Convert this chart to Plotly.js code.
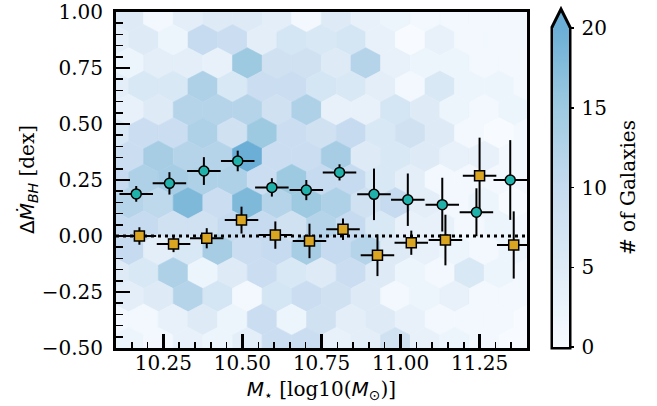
<!DOCTYPE html>
<html>
<head>
<meta charset="utf-8">
<script src="https://cdn.plot.ly/plotly-3.0.1.min.js"></script>
<style>html,body{margin:0;padding:0;background:#fff;}</style>
</head>
<body>
<div id="chart" style="width:657px;height:406px;"></div>
<script>
// ---------------- data ----------------
// hexbin counts, rows top -> bottom (row 0 is the offset lattice)
const hexCounts = [
  [5,1,4,5,5,4,1, 5,3,2,1,1,1,1],
  [4,5,2,10,9,4,7,6, 7,3,0,3,1,1,1],
  [2,4,4,3,15,8,8, 5,12,3,2,2,1,1],
  [4,6,6,13,6,9,9,7, 6,4,1,6,2,2,1],
  [3,5,12,12,12,8,13, 3,3,7,5,2,1,2],
  [6,9,9,13,8,15,9,8, 10,6,8,5,1,0,1],
  [9,14,12,12,20,9,9, 14,5,6,5,3,3,1],
  [10,13,14,13,13,9,15,10, 10,6,4,1,1,1,1],
  [12,11,18,9,18,12,15, 13,8,10,4,1,2,0],
  [10,10,8,8,10,10,8,12, 10,6,3,3,1,2,1],
  [10,4,6,14,9,10,14, 10,12,5,3,2,1,2],
  [5,6,13,2,5,9,6,5, 9,5,2,1,6,2,1],
  [4,5,12,7,1,7,9, 8,5,1,2,3,1,1],
  [1,1,3,5,2,9,2,8, 4,5,3,1,1,1,0],
  [2,1,3,2,4,9,9, 3,4,8,3,2,1,0]
];

const tealX    = [10.164, 10.269, 10.378, 10.485, 10.593, 10.702, 10.807, 10.916, 11.023, 11.132, 11.240, 11.347];
const tealY    = [0.188, 0.235, 0.290, 0.335, 0.217, 0.205, 0.284, 0.186, 0.162, 0.140, 0.106, 0.250];
const tealXErr = [0.053, 0.053, 0.053, 0.053, 0.053, 0.053, 0.053, 0.053, 0.053, 0.053, 0.053, 0.053];
const tealYErr = [0.035, 0.050, 0.062, 0.046, 0.041, 0.045, 0.036, 0.115, 0.117, 0.120, 0.107, 0.178];

const orangeX    = [10.174, 10.282, 10.387, 10.497, 10.604, 10.712, 10.818, 10.927, 11.034, 11.142, 11.250, 11.358];
const orangeY    = [0.000, -0.036, -0.010, 0.071, 0.004, -0.022, 0.030, -0.086, -0.030, -0.018, 0.269, -0.040];
const orangeXErr = [0.053, 0.053, 0.053, 0.053, 0.053, 0.053, 0.053, 0.053, 0.053, 0.053, 0.053, 0.053];
const orangeYErr = [0.039, 0.036, 0.045, 0.060, 0.061, 0.077, 0.048, 0.093, 0.054, 0.113, 0.170, 0.150];

const xTickVals = [10.25, 10.50, 10.75, 11.00, 11.25];
const yTickVals = [-0.50, -0.25, 0.00, 0.25, 0.50, 0.75, 1.00];
const cbTickVals = [0, 5, 10, 15, 20];
const cbTickText = ['\u20090', '\u20095', '\u200910', '\u200915', '\u200920'];
const cbTitle = '# of Galaxies';

// ---------------- geometry / style ----------------
const xRange = [10.1, 11.4];
const yRange = [-0.5, 1.0];
const hexX0 = 10.0936, hexDX = 0.0937, hexYTop = 0.979, hexDY = 0.10402;
const cmin = 0, cmax = 20;
const blues = [[0,'#f7fbff'],[0.25,'#deebf7'],[0.5,'#c6dbef'],[0.75,'#9ecae1'],[1,'#6baed6']];

function hex2rgb(h){return [parseInt(h.slice(1,3),16),parseInt(h.slice(3,5),16),parseInt(h.slice(5,7),16)];}
function cmap(v){
  let t = Math.max(0, Math.min(1, (v-cmin)/(cmax-cmin)));
  for (let i=1;i<blues.length;i++){
    if (t <= blues[i][0]){
      const a = blues[i-1], b = blues[i];
      const f = (t-a[0])/(b[0]-a[0]);
      const ca = hex2rgb(a[1]), cb = hex2rgb(b[1]);
      const c = ca.map((q,j)=>Math.round(q+(cb[j]-q)*f));
      return 'rgb('+c.join(',')+')';
    }
  }
  return blues[blues.length-1][1];
}

const traces = [];
const hw = hexDX/2, hh = hexDY*2/3, hs = hexDY/3;
const cX = [], cY = [], cV = [];
hexCounts.forEach((row, r) => {
  const yc = hexYTop - r*hexDY;
  const off = (r % 2 === 0) ? hexDX/2 : 0;
  row.forEach((v, c) => {
    const xc = hexX0 + off + c*hexDX;
    cX.push(xc); cY.push(yc); cV.push(v);
    const col = cmap(v);
    traces.push({
      type:'scatter', mode:'lines', fill:'toself', fillcolor: col,
      x:[xc, xc+hw, xc+hw, xc, xc-hw, xc-hw, xc],
      y:[yc+hh, yc+hs, yc-hs, yc-hh, yc-hs, yc+hs, yc+hh],
      line:{color: col, width:0.6}, hoverinfo:'skip', showlegend:false
    });
  });
});

// colorbar carrier
traces.push({
  type:'scatter', mode:'markers', x:cX, y:cY, hoverinfo:'skip', showlegend:false,
  marker:{size:1, opacity:0, color:cV, cmin:cmin, cmax:cmax, colorscale:blues, showscale:true,
    colorbar:{
      x:(553-116)/411, xanchor:'left', xpad:0, ypad:0,
      y:(348-347)/336, yanchor:'bottom', len:(347-28)/336, lenmode:'fraction',
      thickness:16, thicknessmode:'pixels', outlinewidth:0,
      tickvals:cbTickVals, ticktext:cbTickText, ticks:'outside', ticklen:5, tickwidth:1.5, tickcolor:'#000',
      tickfont:{family:'DejaVu Serif', size:20, color:'#000'}
    }}
});

// zero line
traces.push({
  type:'scatter', mode:'lines', x:xRange, y:[0,0], hoverinfo:'skip', showlegend:false,
  line:{color:'#000', width:3, dash:'3px,4px'}
});

traces.push({
  type:'scatter', mode:'markers', x:orangeX, y:orangeY, showlegend:false,
  error_x:{type:'data', array:orangeXErr, color:'#000', thickness:2, width:0},
  error_y:{type:'data', array:orangeYErr, color:'#000', thickness:2, width:0},
  marker:{symbol:'square', size:10, color:'#daa520', line:{color:'#000', width:1.5}}
});
traces.push({
  type:'scatter', mode:'markers', x:tealX, y:tealY, showlegend:false,
  error_x:{type:'data', array:tealXErr, color:'#000', thickness:2, width:0},
  error_y:{type:'data', array:tealYErr, color:'#000', thickness:2, width:0},
  marker:{symbol:'circle', size:10, color:'#20b2aa', line:{color:'#000', width:1.5}}
});

const sans = "font-family:'DejaVu Sans'";
const layout = {
  width:657, height:406,
  margin:{l:116, r:130, t:12, b:58, pad:0},
  paper_bgcolor:'#fff', plot_bgcolor:'#fff',
  font:{family:'DejaVu Serif', size:20, color:'#000'},
  showlegend:false,
  xaxis:{
    range:xRange, tickvals:xTickVals, tickformat:'.2f',
    ticks:'inside', ticklen:14, tickwidth:2.5, tickcolor:'#000',
    minor:{dtick:0.05, tick0:10.0, ticks:'inside', ticklen:6, tickwidth:1.5, tickcolor:'#000'},
    showline:true, linewidth:3, linecolor:'#000', mirror:true,
    showgrid:false, zeroline:false, ticklabelstandoff:-5,
    tickfont:{family:'DejaVu Serif', size:20, color:'#000'},
    title:{text:'<span style="'+sans+'"><i>M</i><sub>⋆</sub></span> [log10(<span style="'+sans+'"><i>M</i><sub>⊙</sub></span>)]',
      font:{family:'DejaVu Serif', size:20, color:'#000'}, standoff:8}
  },
  yaxis:{
    range:yRange, tickvals:yTickVals, tickformat:'.2f',
    ticks:'inside', ticklen:14, tickwidth:2.5, tickcolor:'#000',
    minor:{dtick:0.05, tick0:0, ticks:'inside', ticklen:7, tickwidth:1.5, tickcolor:'#000'},
    showline:true, linewidth:3, linecolor:'#000', mirror:true,
    showgrid:false, zeroline:false, ticklabelstandoff:6,
    tickfont:{family:'DejaVu Serif', size:20, color:'#000'}
  },
  annotations:[{
    text:cbTitle, xref:'paper', yref:'paper', x:(628-116)/411, y:(348-188)/336,
    xanchor:'center', yanchor:'middle', textangle:-90, showarrow:false,
    font:{family:'DejaVu Serif', size:20, color:'#000'}
  },{
    text:'<span style="'+sans+'">Δ<i>Ṁ</i><sub><i>BH</i></sub></span> [dex]',
    xref:'paper', yref:'paper', x:(28-116)/411, y:0.5,
    xanchor:'center', yanchor:'middle', textangle:-90, showarrow:false,
    font:{family:'DejaVu Serif', size:20, color:'#000'}
  }],
  shapes:[{
    type:'path', xref:'paper', yref:'paper', layer:'above',
    path:'M '+((552-116)/411)+' '+((348-348)/336)+' L '+((570-116)/411)+' 0 L '+((570-116)/411)+' '+((348-27)/336)+
         ' L '+((561-116)/411)+' '+((348-9)/336)+' L '+((552-116)/411)+' '+((348-27)/336)+' Z',
    fillcolor:'#6baed6', line:{color:'#000', width:3}
  }]
};

Plotly.newPlot('chart', traces, layout, {staticPlot:true, displayModeBar:false});
</script>
</body>
</html>
